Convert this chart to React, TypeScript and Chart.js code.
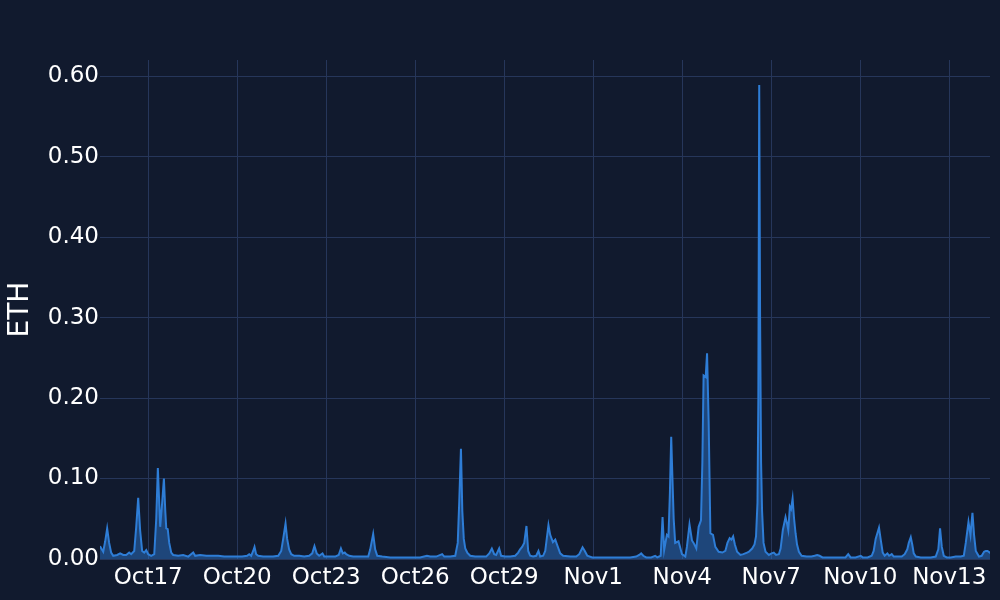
import React, { useEffect, useRef } from "react";
import { Chart, registerables } from "chart.js";

Chart.register(...registerables);

// hours since Oct 15 00:00
const hours: number[] = [
  9, 10.4, 11.6, 13.2, 14.8, 16.4, 18, 19.7, 22.9, 25.3, 27.8, 30.2, 32.6, 34.2, 36.7, 38.3, 39.9, 41.5, 43.1, 44.8,
  46.4, 48, 50.4, 52.9, 54.5, 55.8, 56.9, 57.7, 59.3, 60.7, 61.8, 62.6, 63.8, 65, 66.6, 68.2, 72.3, 76.3, 80.4, 84.4,
  86, 90, 95, 100, 104.6, 109.5, 114.3, 119.2, 124, 128, 129.7, 131.3, 132.9, 134, 135.3, 137, 141, 145, 149, 153.2,
  155.6, 157.2, 159.1, 160.4, 162, 163.7, 166.1, 170.2, 174.2, 178.2, 180.7, 182.5, 184.3, 186.3, 189, 190.4, 195.2, 199.3, 202.1, 203.9,
  205.4, 207, 208.2, 210.6, 213.8, 217.9, 221.9, 226, 227.6, 230, 231.6, 233.3, 237.3, 243.8, 251.9, 260, 268, 273.5, 276.1, 281,
  285.8, 287.5, 292.3, 296.4, 298.4, 299.6, 301, 302.1, 303.3, 304.5, 306.1, 308.5, 312.5, 316.6, 321.4, 323.9, 326, 327.9, 329.5, 331.9,
  333.5, 336.8, 340.9, 344.9, 347.3, 348.9, 350.5, 352.2, 354, 355.4, 357, 359.4, 361.9, 363.7, 365.1, 367.5, 369.2, 370.4, 371.8, 373.2,
  375.4, 377.3, 379.4, 381.3, 383.7, 389.4, 394.3, 396.7, 399.4, 401.2, 403.2, 407.2, 413.7, 421.8, 429.8, 437.9, 442.8, 445.2, 446.8, 448.5,
  450.9, 454.9, 458.1, 459.8, 462.6, 464.1, 465.4, 467.6, 468.9, 470, 471.1, 472.1, 473.1, 474.3, 477, 479.8, 482.5, 483.8, 485.9, 487.9,
  489.2, 491.4, 493.3, 495.2, 496.3, 497.3, 499, 500.1, 501.4, 502.8, 504.9, 506.8, 509.5, 512.5, 514.9, 516.6, 518.4, 519.8, 521.2, 522.6,
  524.4, 527.1, 529.5, 532.5, 534, 536.6, 538.5, 539.7, 540.9, 541.6, 542.3, 543, 543.8, 544.6, 545.8, 547.4, 550.1, 552.3, 554.1, 555.9,
  558.2, 559.6, 561.4, 563.6, 564.8, 565.8, 567.1, 568.1, 569.3, 570.5, 571.7, 572.9, 574.4, 576.6, 580.6, 584.6, 587.1, 589.2, 591.1, 593.5,
  600, 606.5, 612.1, 614.3, 616.2, 620.2, 624.4, 626, 630, 633.3, 634.9, 636.5, 639.2, 640.5, 642.2, 643.8, 646, 647.4, 649.5, 651.1,
  654.3, 657.6, 660, 662.1, 663.3, 664.9, 666.1, 667.3, 669, 673, 677, 681.1, 685.1, 687.2, 688.6, 690, 691.6, 694, 697.3, 701.3,
  705.4, 707.8, 709.4, 711.6, 713.2, 714.8, 716.1, 717.5, 720.1, 722.3, 724.2, 725.6, 727, 729.6,
];

const ethValues: number[] = [
  0.016, 0.012, 0.009, 0.022, 0.038, 0.02, 0.008, 0.004, 0.005, 0.007, 0.005, 0.005, 0.008, 0.006, 0.01, 0.04, 0.076, 0.035, 0.01, 0.008,
  0.011, 0.006, 0.004, 0.006, 0.05, 0.113, 0.07, 0.04, 0.07, 0.1, 0.06, 0.038, 0.037, 0.02, 0.008, 0.005, 0.004, 0.005, 0.003, 0.008,
  0.004, 0.005, 0.004, 0.004, 0.004, 0.003, 0.003, 0.003, 0.003, 0.004, 0.006, 0.004, 0.01, 0.015, 0.006, 0.004, 0.003, 0.003, 0.003, 0.004,
  0.01, 0.025, 0.044, 0.025, 0.012, 0.006, 0.004, 0.004, 0.003, 0.004, 0.007, 0.016, 0.007, 0.004, 0.007, 0.003, 0.003, 0.003, 0.005, 0.013,
  0.007, 0.008, 0.006, 0.004, 0.003, 0.003, 0.003, 0.003, 0.012, 0.031, 0.012, 0.004, 0.003, 0.002, 0.002, 0.002, 0.002, 0.004, 0.003, 0.003,
  0.006, 0.003, 0.003, 0.004, 0.02, 0.07, 0.137, 0.06, 0.025, 0.013, 0.008, 0.004, 0.003, 0.003, 0.003, 0.007, 0.013, 0.006, 0.005, 0.013,
  0.004, 0.003, 0.003, 0.004, 0.008, 0.012, 0.015, 0.02, 0.041, 0.01, 0.004, 0.003, 0.004, 0.01, 0.003, 0.004, 0.01, 0.025, 0.042, 0.03,
  0.021, 0.024, 0.015, 0.007, 0.004, 0.003, 0.003, 0.006, 0.0145, 0.01, 0.004, 0.002, 0.002, 0.002, 0.002, 0.002, 0.003, 0.005, 0.007, 0.004,
  0.002, 0.002, 0.004, 0.002, 0.004, 0.052, 0.011, 0.03, 0.028, 0.08, 0.152, 0.1, 0.05, 0.02, 0.022, 0.006, 0.003, 0.015, 0.043, 0.023,
  0.02, 0.013, 0.04, 0.048, 0.12, 0.228, 0.226, 0.2555, 0.17, 0.032, 0.03, 0.015, 0.009, 0.008, 0.01, 0.02, 0.026, 0.024, 0.028, 0.018,
  0.009, 0.005, 0.006, 0.008, 0.009, 0.013, 0.018, 0.028, 0.07, 0.2, 0.589, 0.3, 0.12, 0.06, 0.02, 0.009, 0.005, 0.007, 0.008, 0.005,
  0.006, 0.013, 0.036, 0.052, 0.044, 0.036, 0.065, 0.062, 0.075, 0.05, 0.032, 0.018, 0.009, 0.004, 0.003, 0.003, 0.004, 0.005, 0.004, 0.002,
  0.002, 0.002, 0.002, 0.006, 0.002, 0.002, 0.004, 0.002, 0.002, 0.004, 0.01, 0.025, 0.039, 0.025, 0.008, 0.004, 0.007, 0.004, 0.006, 0.003,
  0.003, 0.003, 0.006, 0.012, 0.02, 0.027, 0.018, 0.007, 0.003, 0.002, 0.002, 0.002, 0.003, 0.012, 0.038, 0.015, 0.004, 0.002, 0.002, 0.003,
  0.003, 0.004, 0.02, 0.046, 0.03, 0.0575, 0.03, 0.01, 0.003, 0.004, 0.009, 0.01, 0.01, 0.007,
];

const xTickHours: number[] = [48, 120, 192, 264, 336, 408, 480, 552, 624, 696];
const xTickLabels: string[] = ["Oct17", "Oct20", "Oct23", "Oct26", "Oct29", "Nov1", "Nov4", "Nov7", "Nov10", "Nov13"];
const yTickValues: number[] = [0, 0.1, 0.2, 0.3, 0.4, 0.5, 0.6];

const BG = "#111a2e";
const GRID = "#26365a";
const LINE = "#2e7dd6";
const FILL = "rgba(46,125,214,0.45)";
const FONT = "'DejaVu Sans', sans-serif";

export default function App() {
  const ref = useRef<HTMLCanvasElement | null>(null);

  useEffect(() => {
    document.body.style.margin = "0";
    document.body.style.background = BG;
    const canvas = ref.current;
    if (!canvas) return;
    const points = hours.map((h, i) => ({ x: h, y: ethValues[i] }));
    const chart = new Chart(canvas, {
      type: "line",
      data: {
        datasets: [
          {
            data: points,
            borderColor: LINE,
            backgroundColor: FILL,
            borderWidth: 2,
            fill: "origin",
            pointRadius: 0,
            tension: 0,
          },
        ],
      },
      options: {
        responsive: false,
        animation: false,
        layout: { padding: { top: 60, right: 10, left: 0, bottom: 0 } },
        plugins: { legend: { display: false }, tooltip: { enabled: false } },
        scales: {
          x: {
            type: "linear",
            min: 9,
            max: 729,
            border: { display: false },
            grid: { color: GRID, lineWidth: 1, drawTicks: false },
            afterBuildTicks: (scale: any) => {
              scale.ticks = xTickHours.map((v) => ({ value: v }));
            },
            afterFit: (scale: any) => {
              scale.height = 41;
            },
            ticks: {
              color: "#ffffff",
              font: { family: FONT, size: 23 },
              padding: 5,
              maxRotation: 0,
              autoSkip: false,
              callback: (v: any) => {
                const i = xTickHours.indexOf(Number(v));
                return i >= 0 ? xTickLabels[i] : "";
              },
            },
          },
          y: {
            type: "linear",
            min: 0,
            max: 0.62,
            border: { display: false },
            grid: { color: GRID, lineWidth: 1, drawTicks: false },
            afterBuildTicks: (scale: any) => {
              scale.ticks = yTickValues.map((v) => ({ value: v }));
            },
            afterFit: (scale: any) => {
              scale.width = 100;
            },
            title: {
              display: true,
              text: "ETH",
              color: "#ffffff",
              font: { family: FONT, size: 28 },
              padding: { top: 4, bottom: 0 },
            },
            ticks: {
              color: "#ffffff",
              font: { family: FONT, size: 23 },
              padding: 1,
              callback: (v: any) => Number(v).toFixed(2),
            },
          },
        },
      },
    });
    return () => chart.destroy();
  }, []);

  return (
    <div style={{ width: 1000, height: 600, background: BG }}>
      <canvas ref={ref} width={1000} height={600} style={{ display: "block" }} />
    </div>
  );
}
